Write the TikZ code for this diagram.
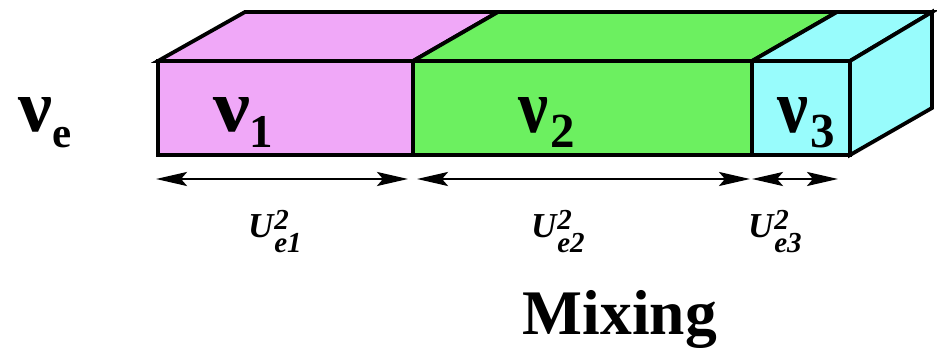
\documentclass[tikz,border=0pt]{standalone}
\usepackage{fontspec}
\setmainfont{Liberation Serif}
\usetikzlibrary{arrows.meta}
\definecolor{nupink}{RGB}{240,168,248}
\definecolor{nugreen}{RGB}{108,240,96}
\definecolor{nucyan}{RGB}{152,252,252}
\newcommand{\nuglyph}[2]{\resizebox{#1}{#2}{\bfseries ν}}
\newcommand{\Ulab}[1]{{\fontsize{35}{35}\selectfont\bfseries\itshape U}\kern1pt\rlap{\raisebox{8pt}{\fontsize{29}{29}\selectfont\bfseries\itshape 2}}\raisebox{-15pt}{\fontsize{29}{29}\selectfont\bfseries\itshape e#1}}
\tikzset{
  face/.style={draw=black, line width=3.8pt, line join=miter},
  span/.style={line width=2.6pt, {Stealth[length=31pt,width=14pt,inset=6pt]}-{Stealth[length=31pt,width=14pt,inset=6pt]}},
  lbl/.style={inner sep=0pt, outer sep=0pt},
}
\begin{document}
\begin{tikzpicture}[x=1pt,y=-1pt]
\useasboundingbox (0,0) rectangle (937,352);
% corners
\coordinate (f0t) at (158,61);  \coordinate (f0b) at (158,155);
\coordinate (f1t) at (413,61);  \coordinate (f1b) at (413,155);
\coordinate (f2t) at (752,61);  \coordinate (f2b) at (752,155);
\coordinate (f3t) at (850,61);  \coordinate (f3b) at (850,155);
\coordinate (b0t) at (245,12);  \coordinate (b1t) at (498,12);
\coordinate (b2t) at (837,12);  \coordinate (b3t) at (932,12);
\coordinate (b3b) at (932,108);
% front faces
\filldraw[face, fill=nupink] (f0t) rectangle (f1b);
\filldraw[face, fill=nugreen] (f1t) rectangle (f2b);
\filldraw[face, fill=nucyan] (f2t) rectangle (f3b);
% top faces
\filldraw[face, fill=nupink] (f0t) -- (f1t) -- (b1t) -- (b0t) -- cycle;
\filldraw[face, fill=nugreen] (f1t) -- (f2t) -- (b2t) -- (b1t) -- cycle;
\filldraw[face, fill=nucyan] (f2t) -- (f3t) -- (b3t) -- (b2t) -- cycle;
% right face
\filldraw[face, fill=nucyan] (f3t) -- (b3t) -- (b3b) -- (f3b) -- cycle;

% neutrino labels
\node[lbl, anchor=base west] (nue) at (18,132) {\nuglyph{34pt}{34pt}\kern0pt\raisebox{-16pt}{\fontsize{43}{43}\selectfont\bfseries e}};
\node[lbl, anchor=base west] (nu1) at (213,132) {\nuglyph{37pt}{34pt}\kern-1pt\raisebox{-16pt}{\fontsize{47}{47}\selectfont\bfseries 1}};
\node[lbl, anchor=base west] (nu2) at (518,133) {\nuglyph{30pt}{35pt}\kern2pt\raisebox{-15pt}{\fontsize{49}{49}\selectfont\bfseries 2}};
\node[lbl, anchor=base west] (nu3) at (777,133) {\nuglyph{31pt}{35pt}\kern2pt\raisebox{-15pt}{\fontsize{49}{49}\selectfont\bfseries 3}};

% spans
\coordinate (a1l) at (156,179); \coordinate (a1r) at (408,179);
\coordinate (a2l) at (417,179); \coordinate (a2r) at (750,179);
\coordinate (a3l) at (752,179); \coordinate (a3r) at (838,179);
\draw[span] (a1l) -- (a1r);
\draw[span] (a2l) -- (a2r);
\draw[span] (a3l) -- (a3r);

% mixing labels
\node[lbl, anchor=base west] (u1) at (248,238) {\Ulab{1}};
\node[lbl, anchor=base west] (u2) at (531,238) {\Ulab{2}};
\node[lbl, anchor=base west] (u3) at (748,238) {\Ulab{3}};
\node[lbl, anchor=base] (mix) at (620,335) {\fontsize{63.5}{63.5}\selectfont\bfseries Mixing};
\end{tikzpicture}
\end{document}
